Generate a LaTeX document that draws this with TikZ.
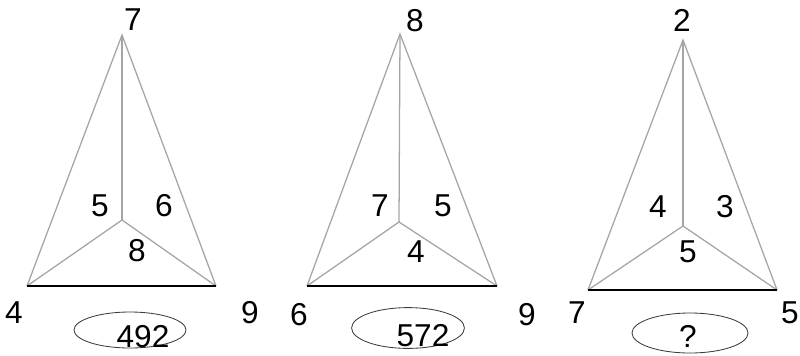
\documentclass[tikz,border=0pt]{standalone}
\usepackage{fontspec}
\setmainfont{Liberation Sans}
\usetikzlibrary{shapes.geometric}
\definecolor{PuzGray}{RGB}{165,165,165}
\definecolor{PuzDark}{RGB}{60,60,60}
\tikzset{
  puz/edge/.style={draw=PuzGray, line width=0.9pt},
  puz/base/.style={draw=black, line width=2pt},
  puz/num/.style={inner sep=0pt, text=black, font=\fontsize{22.5}{26}\selectfont},
  puz/answer/.style={
    ellipse,
    draw=PuzDark,
    line width=0.6pt,
    inner sep=0pt
  }
}

\begin{document}
\begin{tikzpicture}[x=0.025cm,y=-0.025cm]
  \useasboundingbox (0,0) rectangle (800,355);

  % first figure
  \coordinate (a1) at (122,35);
  \coordinate (c1) at (122,220);
  \coordinate (l1) at (27,286);
  \coordinate (r1) at (216,286);
  \draw[puz/edge] (l1) -- (a1) -- (r1);
  \draw[puz/edge] (a1) -- (c1);
  \draw[puz/edge] (l1) -- (c1) -- (r1);
  \draw[puz/base] (l1) -- (r1);
  \node[puz/num] (top1) at (133,20) {7};
  \node[puz/num] (left1) at (100,206) {5};
  \node[puz/num] (right1) at (164,206) {6};
  \node[puz/num] (mid1) at (137,251) {8};
  \node[puz/num] (bl1) at (14,313) {4};
  \node[puz/num] (br1) at (250,313) {9};
  \node[puz/answer,minimum width=2.8cm,minimum height=0.9cm] (oval1) at (130,330) {};
  \node[puz/num] (res1) at (143,337) {492};

  % second figure
  \coordinate (a2) at (400,34);
  \coordinate (c2) at (399,222);
  \coordinate (l2) at (307,286);
  \coordinate (r2) at (497,286);
  \draw[puz/edge] (l2) -- (a2) -- (r2);
  \draw[puz/edge] (a2) -- (c2);
  \draw[puz/edge] (l2) -- (c2) -- (r2);
  \draw[puz/base] (l2) -- (r2);
  \node[puz/num] (top2) at (415,21) {8};
  \node[puz/num] (left2) at (380,206) {7};
  \node[puz/num] (right2) at (443,206) {5};
  \node[puz/num] (mid2) at (416,252) {4};
  \node[puz/num] (bl2) at (299,315) {6};
  \node[puz/num] (br2) at (527,315) {9};
  \node[puz/answer,minimum width=2.82cm,minimum height=1.02cm] (oval2) at (408,328) {};
  \node[puz/num] (res2) at (423,336) {572};

  % third figure
  \coordinate (a3) at (683,40);
  \coordinate (c3) at (683,226);
  \coordinate (l3) at (588,290);
  \coordinate (r3) at (777,290);
  \draw[puz/edge] (l3) -- (a3) -- (r3);
  \draw[puz/edge] (a3) -- (c3);
  \draw[puz/edge] (l3) -- (c3) -- (r3);
  \draw[puz/base] (l3) -- (r3);
  \node[puz/num] (top3) at (682,20) {2};
  \node[puz/num] (left3) at (658,207) {4};
  \node[puz/num] (right3) at (725,207) {3};
  \node[puz/num] (mid3) at (688,252) {5};
  \node[puz/num] (bl3) at (577,313) {7};
  \node[puz/num] (br3) at (790,313) {5};
  \node[puz/answer,minimum width=2.9cm,minimum height=1cm] (oval3) at (690,333) {};
  \node[puz/num] (res3) at (688,336) {?};
\end{tikzpicture}
\end{document}
